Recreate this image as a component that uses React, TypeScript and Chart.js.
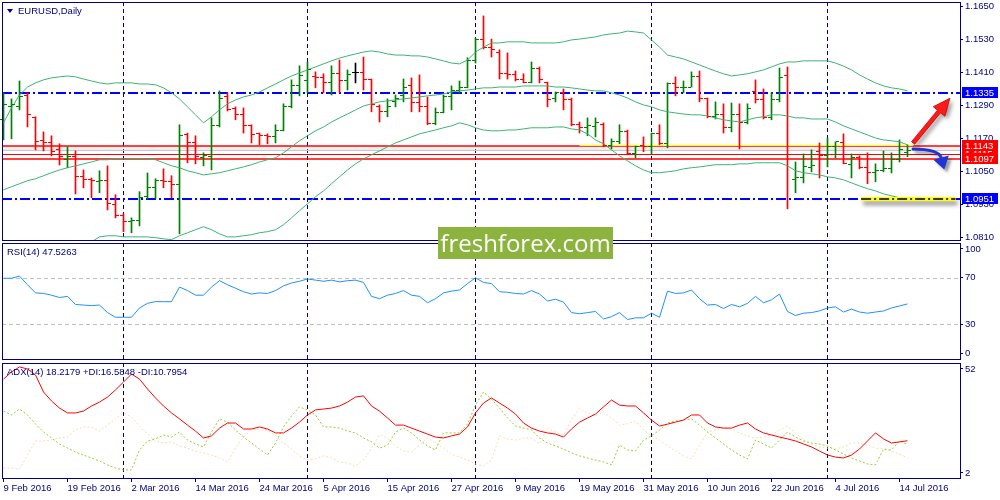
import React, { useEffect, useRef } from "react";
import { Chart, registerables } from "chart.js";

Chart.register(...registerables);

// ---------------- data (EURUSD daily, 9 Feb 2016 .. 15 Jul 2016) ----------------
const OPEN = [
  1.1238, 1.1288, 1.1288, 1.1328, 1.1245, 1.1162, 1.1154, 1.1129, 1.1093, 1.1104,
  1.1031, 1.1020, 1.1013, 1.1017, 1.0929, 1.0890, 1.0868, 1.0872, 1.0958, 1.0991,
  1.1017, 1.1013, 1.1002, 1.1183, 1.1154, 1.1100, 1.1104, 1.1216, 1.1321, 1.1278,
  1.1256, 1.1216, 1.1187, 1.1180, 1.1176, 1.1198, 1.1288, 1.1361, 1.1379, 1.1394,
  1.1390, 1.1375, 1.1405, 1.1379, 1.1408, 1.1408, 1.1386, 1.1288, 1.1267, 1.1303,
  1.1325, 1.1361, 1.1299, 1.1288, 1.1223, 1.1263, 1.1321, 1.1343, 1.1354, 1.1455,
  1.1531, 1.1499, 1.1484, 1.1405, 1.1401, 1.1383, 1.1372, 1.1423, 1.1375, 1.1317,
  1.1336, 1.1310, 1.1220, 1.1209, 1.1212, 1.1220, 1.1143, 1.1158, 1.1194, 1.1114,
  1.1143, 1.1140, 1.1190, 1.1151, 1.1368, 1.1354, 1.1357, 1.1394, 1.1317, 1.1249,
  1.1256, 1.1209, 1.1256, 1.1227, 1.1339, 1.1310, 1.1245, 1.1310, 1.1397, 1.1020,
  1.1027, 1.1064, 1.1122, 1.1107, 1.1140, 1.1154, 1.1074, 1.1100, 1.1064, 1.1045,
  1.1053, 1.1060, 1.1093, 1.1118,
];
const HIGH = [
  1.1336, 1.1314, 1.1379, 1.1336, 1.1249, 1.1194, 1.1180, 1.1151, 1.1140, 1.1125,
  1.1056, 1.1027, 1.1053, 1.1071, 1.0966, 1.0897, 1.0882, 1.0977, 1.1045, 1.1024,
  1.1060, 1.1035, 1.1220, 1.1190, 1.1180, 1.1118, 1.1245, 1.1343, 1.1336, 1.1285,
  1.1281, 1.1220, 1.1190, 1.1187, 1.1220, 1.1296, 1.1383, 1.1434, 1.1448, 1.1412,
  1.1405, 1.1434, 1.1455, 1.1419, 1.1444, 1.1466, 1.1386, 1.1292, 1.1314, 1.1328,
  1.1386, 1.1390, 1.1401, 1.1321, 1.1281, 1.1328, 1.1361, 1.1379, 1.1463, 1.1535,
  1.1615, 1.1531, 1.1492, 1.1481, 1.1415, 1.1405, 1.1448, 1.1430, 1.1375, 1.1339,
  1.1350, 1.1317, 1.1230, 1.1245, 1.1245, 1.1227, 1.1169, 1.1220, 1.1201, 1.1143,
  1.1176, 1.1190, 1.1220, 1.1372, 1.1394, 1.1379, 1.1412, 1.1415, 1.1317, 1.1303,
  1.1296, 1.1299, 1.1296, 1.1296, 1.1383, 1.1350, 1.1336, 1.1426, 1.1430, 1.1085,
  1.1114, 1.1129, 1.1154, 1.1172, 1.1158, 1.1187, 1.1114, 1.1107, 1.1118, 1.1078,
  1.1125, 1.1118, 1.1165, 1.1147,
];
const LOW = [
  1.1165, 1.1169, 1.1274, 1.1212, 1.1129, 1.1125, 1.1107, 1.1074, 1.1064, 1.0969,
  1.0991, 1.0955, 1.0973, 1.0911, 1.0882, 1.0832, 1.0828, 1.0853, 1.0951, 1.0951,
  1.0991, 1.0955, 1.0824, 1.1082, 1.1078, 1.1071, 1.1056, 1.1212, 1.1270, 1.1238,
  1.1190, 1.1154, 1.1147, 1.1151, 1.1154, 1.1198, 1.1281, 1.1325, 1.1336, 1.1354,
  1.1336, 1.1328, 1.1336, 1.1346, 1.1372, 1.1346, 1.1267, 1.1230, 1.1249, 1.1285,
  1.1303, 1.1267, 1.1267, 1.1220, 1.1220, 1.1263, 1.1274, 1.1336, 1.1354, 1.1444,
  1.1495, 1.1466, 1.1386, 1.1386, 1.1379, 1.1372, 1.1372, 1.1372, 1.1285, 1.1303,
  1.1274, 1.1216, 1.1190, 1.1180, 1.1176, 1.1140, 1.1132, 1.1151, 1.1111, 1.1100,
  1.1122, 1.1114, 1.1147, 1.1136, 1.1325, 1.1336, 1.1357, 1.1303, 1.1245, 1.1241,
  1.1190, 1.1194, 1.1132, 1.1223, 1.1299, 1.1241, 1.1238, 1.1303, 1.0915, 1.0973,
  1.1009, 1.1049, 1.1027, 1.1067, 1.1100, 1.1078, 1.1027, 1.1060, 1.1006, 1.1013,
  1.1049, 1.1045, 1.1085, 1.1104,
];
const CLOSE = [
  1.1292, 1.1292, 1.1321, 1.1256, 1.1158, 1.1154, 1.1122, 1.1104, 1.1104, 1.1031,
  1.1020, 1.1017, 1.1017, 1.0933, 1.0890, 1.0868, 1.0872, 1.0955, 1.0991, 1.1017,
  1.1013, 1.1002, 1.1180, 1.1154, 1.1104, 1.1107, 1.1216, 1.1317, 1.1274, 1.1256,
  1.1216, 1.1183, 1.1180, 1.1176, 1.1198, 1.1288, 1.1361, 1.1397, 1.1419, 1.1390,
  1.1375, 1.1405, 1.1379, 1.1401, 1.1408, 1.1386, 1.1292, 1.1267, 1.1288, 1.1314,
  1.1357, 1.1299, 1.1288, 1.1223, 1.1263, 1.1321, 1.1343, 1.1354, 1.1455, 1.1531,
  1.1499, 1.1492, 1.1405, 1.1401, 1.1383, 1.1375, 1.1423, 1.1383, 1.1310, 1.1336,
  1.1310, 1.1220, 1.1209, 1.1216, 1.1227, 1.1143, 1.1158, 1.1194, 1.1114, 1.1140,
  1.1140, 1.1187, 1.1151, 1.1368, 1.1354, 1.1357, 1.1394, 1.1317, 1.1249, 1.1256,
  1.1209, 1.1256, 1.1227, 1.1278, 1.1310, 1.1245, 1.1310, 1.1390, 1.1111, 1.1027,
  1.1067, 1.1071, 1.1107, 1.1140, 1.1158, 1.1078, 1.1100, 1.1064, 1.1045, 1.1053,
  1.1060, 1.1093, 1.1129, 1.1125,
];
const BB_UPPER = [
  1.1227, 1.1281, 1.1328, 1.1357, 1.1372, 1.1383, 1.1390, 1.1394, 1.1397, 1.1394,
  1.1386, 1.1379, 1.1372, 1.1368, 1.1372, 1.1372, 1.1372, 1.1368, 1.1368, 1.1365,
  1.1354, 1.1336, 1.1314, 1.1285, 1.1256, 1.1227, 1.1249, 1.1274, 1.1296, 1.1310,
  1.1321, 1.1328, 1.1339, 1.1354, 1.1368, 1.1383, 1.1397, 1.1408, 1.1419, 1.1430,
  1.1441, 1.1452, 1.1462, 1.1470, 1.1477, 1.1484, 1.1488, 1.1484, 1.1477, 1.1473,
  1.1473, 1.1470, 1.1470, 1.1466, 1.1459, 1.1452, 1.1444, 1.1441, 1.1455, 1.1484,
  1.1502, 1.1517, 1.1517, 1.1521, 1.1521, 1.1521, 1.1517, 1.1517, 1.1517, 1.1517,
  1.1521, 1.1528, 1.1531, 1.1535, 1.1539, 1.1546, 1.1550, 1.1553, 1.1560, 1.1557,
  1.1553, 1.1528, 1.1502, 1.1473, 1.1466, 1.1459, 1.1448, 1.1437, 1.1426, 1.1415,
  1.1405, 1.1397, 1.1401, 1.1405, 1.1412, 1.1419, 1.1430, 1.1441, 1.1448, 1.1448,
  1.1452, 1.1452, 1.1452, 1.1452, 1.1444, 1.1433, 1.1419, 1.1401, 1.1386, 1.1372,
  1.1361, 1.1354, 1.1350, 1.1343,
];
const BB_MIDDLE = [
  1.0984, 1.0995, 1.1006, 1.1017, 1.1024, 1.1035, 1.1046, 1.1056, 1.1064, 1.1071,
  1.1078, 1.1085, 1.1093, 1.1093, 1.1096, 1.1096, 1.1096, 1.1096, 1.1096, 1.1093,
  1.1082, 1.1071, 1.1064, 1.1053, 1.1046, 1.1038, 1.1042, 1.1046, 1.1053, 1.1060,
  1.1067, 1.1075, 1.1085, 1.1093, 1.1100, 1.1118, 1.1140, 1.1162, 1.1180, 1.1198,
  1.1212, 1.1230, 1.1245, 1.1259, 1.1274, 1.1288, 1.1296, 1.1303, 1.1307, 1.1310,
  1.1314, 1.1317, 1.1321, 1.1325, 1.1328, 1.1332, 1.1339, 1.1343, 1.1346, 1.1350,
  1.1354, 1.1354, 1.1357, 1.1357, 1.1357, 1.1361, 1.1361, 1.1361, 1.1361, 1.1357,
  1.1357, 1.1354, 1.1350, 1.1346, 1.1343, 1.1343, 1.1336, 1.1328, 1.1317, 1.1303,
  1.1292, 1.1285, 1.1274, 1.1267, 1.1263, 1.1259, 1.1256, 1.1256, 1.1252, 1.1245,
  1.1238, 1.1234, 1.1230, 1.1238, 1.1245, 1.1249, 1.1256, 1.1256, 1.1252, 1.1245,
  1.1245, 1.1241, 1.1241, 1.1241, 1.1230, 1.1216, 1.1205, 1.1194, 1.1183, 1.1172,
  1.1165, 1.1162, 1.1158, 1.1147,
];
const BB_LOWER = [
  1.0741, 1.0719, 1.0701, 1.0687, 1.0679, 1.0694, 1.0708, 1.0723, 1.0734, 1.0752,
  1.0774, 1.0795, 1.0813, 1.0817, 1.0817, 1.0813, 1.0813, 1.0813, 1.0813, 1.0810,
  1.0806, 1.0803, 1.0817, 1.0828, 1.0839, 1.0850, 1.0839, 1.0824, 1.0813, 1.0813,
  1.0817, 1.0821, 1.0828, 1.0832, 1.0839, 1.0857, 1.0882, 1.0908, 1.0933, 1.0959,
  1.0980, 1.1006, 1.1031, 1.1056, 1.1078, 1.1096, 1.1111, 1.1125, 1.1140, 1.1154,
  1.1165, 1.1176, 1.1187, 1.1194, 1.1201, 1.1209, 1.1216, 1.1227, 1.1220, 1.1209,
  1.1201, 1.1198, 1.1198, 1.1201, 1.1201, 1.1205, 1.1209, 1.1209, 1.1209, 1.1212,
  1.1212, 1.1205, 1.1201, 1.1187, 1.1165, 1.1151, 1.1129, 1.1107, 1.1089, 1.1071,
  1.1056, 1.1046, 1.1046, 1.1049, 1.1053, 1.1060, 1.1064, 1.1067, 1.1071, 1.1075,
  1.1075, 1.1075, 1.1078, 1.1078, 1.1082, 1.1082, 1.1082, 1.1082, 1.1071, 1.1053,
  1.1046, 1.1042, 1.1038, 1.1031, 1.1027, 1.1020, 1.1009, 1.0998, 1.0988, 1.0980,
  1.0969, 1.0962, 1.0955, 1.0951,
];
const RSI_VALUES = [
  69.6, 69.6, 71.5, 64, 57, 56.5, 55, 53, 54, 47,
  46.5, 46, 46.5, 40, 36, 36, 36, 44, 48, 49.5,
  49.4, 49.4, 62, 59, 55, 55, 62, 67.5, 64, 61,
  58, 56, 57, 56.5, 59, 63, 65.5, 67, 69, 68,
  67, 68, 66.5, 67.5, 68, 66, 54, 52, 55, 56.5,
  59, 55, 54, 48.5, 52, 57, 58.5, 59.5, 65, 70,
  66, 65, 58, 57.5, 56.5, 56, 59, 56, 50, 51.5,
  49, 40, 39, 40, 41, 34.5, 36.5, 40, 34, 35.5,
  35.5, 39.5, 36, 58.5, 56.5, 57, 59.5, 52, 46.5, 47,
  43.5, 47, 45, 48, 54, 48.5, 51, 56, 41, 37.5,
  39.5, 40, 41.5, 44, 45, 40.5, 43, 40.5, 39.5, 40.5,
  41.4, 44, 45.7, 47.5,
];
const ADX_VALUES = [
  45, 48.1, 50.3, 49.4, 46.8, 39.4, 35.5, 32.4, 30.3, 30.3,
  31.1, 33.3, 35, 37.2, 40.3, 43.7, 47.2, 45, 40.7, 36.8,
  33.3, 30.3, 27.7, 25, 22.4, 19.4, 20.3, 23.7, 25.9, 25.9,
  23.3, 23.3, 24.2, 23.3, 21.6, 21.6, 23.7, 26.3, 29.4, 31.6,
  32, 32.4, 33.3, 35, 37.2, 37.7, 33.3, 31.1, 28.1, 25,
  25, 23.7, 22.4, 21.1, 19.8, 19.4, 20.3, 21.1, 24.2, 30.3,
  34.6, 36.8, 34.6, 32.4, 29.8, 25.9, 23.7, 22.4, 21.6, 21.1,
  19.8, 23.3, 26.3, 28.1, 29.8, 32.9, 35.9, 33.7, 33.3, 33.3,
  30.3, 27.2, 24.6, 25.4, 26.3, 27.2, 29.4, 29.4, 25.9, 24.2,
  23.7, 23.7, 25, 25.9, 23.3, 21.6, 20.7, 19.8, 19, 18.1,
  16.8, 15.5, 13.7, 12, 11.1, 10.7, 12, 14.6, 18.1, 21.6,
  19, 17.2, 17.7, 18.2,
];
const PLUS_DI = [
  31.1, 29.4, 32, 29.4, 25.5, 22, 19.4, 16.8, 15, 13.3,
  12, 10.7, 9.4, 7.7, 6.3, 5.5, 5.5, 14.2, 18.1, 19,
  20.7, 19.8, 22, 18.5, 16.8, 15.5, 22, 27.7, 26.3, 22.9,
  19.8, 17.2, 14.6, 12, 17.2, 24.2, 29, 32.9, 31.6, 29.4,
  24.2, 24.2, 23.7, 22.4, 21.6, 19.4, 17.7, 15, 16.3, 22,
  23.7, 21.6, 18.5, 15.9, 14.2, 21.6, 21.6, 21.6, 25.5, 33.7,
  39.4, 36.3, 32.4, 28.1, 24.6, 23.7, 22.9, 19.4, 17.2, 15.9,
  14.6, 12.9, 11.6, 10.7, 9.8, 9, 7.7, 16.3, 14.2, 13.7,
  18.5, 20.3, 22.9, 25.9, 26.8, 27.2, 27.7, 25, 22, 19.4,
  16.8, 14.2, 12, 10.3, 18.5, 16.8, 15, 18.5, 22, 19.8,
  18.1, 17.2, 16.8, 15.9, 14.2, 12.4, 10.7, 9.4, 8.1, 7.7,
  14.6, 14.2, 18.1, 16.6,
];
const MINUS_DI = [
  6.3, 6.3, 5.9, 12, 18.1, 18.1, 18.5, 19.4, 19.8, 22.9,
  24.2, 24.2, 22.4, 25, 27.7, 30.3, 28.5, 24.6, 21.1, 18.1,
  17.2, 17.7, 15.9, 15, 13.7, 12.9, 12, 10.7, 9, 15,
  19.8, 22.9, 22.9, 22.9, 20.3, 17.2, 14.6, 11.6, 9.8, 10.3,
  11.6, 10.7, 9, 8.5, 7.2, 9.8, 15, 20.7, 19.4, 15.9,
  13.7, 13.3, 16.3, 19.4, 17.2, 15, 12.4, 11.1, 9.8, 8.1,
  7.2, 9.8, 20.3, 19, 18.5, 19.4, 19.4, 16.8, 23.7, 22,
  20.7, 27.2, 32.4, 30.3, 29, 30.7, 28.1, 25, 25.5, 26.8,
  22.9, 20.3, 18.5, 15.9, 13.7, 11.6, 10.3, 16.3, 22, 22.9,
  23.7, 23.3, 21.6, 20.3, 19.4, 19.8, 20.7, 22.9, 24.6, 21.6,
  18.5, 16.8, 15.5, 15, 14.6, 15.5, 17.2, 17.2, 16.3, 15,
  14.6, 13.7, 12.4, 10.8,
];

const X_TICK_INDEX = [0, 8, 16, 24, 32, 40, 48, 56, 64, 72, 80, 88, 96, 104, 112];
const X_TICK_LABELS = [
  "9 Feb 2016", "19 Feb 2016", "2 Mar 2016", "14 Mar 2016", "24 Mar 2016",
  "5 Apr 2016", "15 Apr 2016", "27 Apr 2016", "9 May 2016", "19 May 2016",
  "31 May 2016", "10 Jun 2016", "22 Jun 2016", "4 Jul 2016", "14 Jul 2016",
];
const MONTH_START_INDEX = [15, 38, 59, 81, 103];
const PRICE_TICKS = [1.165, 1.153, 1.141, 1.129, 1.117, 1.105, 1.093, 1.081];
const PRICE_MIN = 1.08017;
const PRICE_MAX = 1.16656;
const BLUE_LEVELS = [1.1335, 1.0951];
const RED_LEVELS_MAIN = [1.1143, 1.1097];
const RED_LEVEL_BID = 1.1115;
const GRAY_BAND = [1.114, 1.1124];
const YELLOW_LEVEL = 1.1148;
const YELLOW_SPAN = [72, 113.7];
const HIGHLIGHT_LEVEL = 1.0951;
const HIGHLIGHT_SPAN = [107.2, 119];
const RED_ARROW = [[113.7, 1.1154], [118.3, 1.1316]];
const BLUE_ARROW = [[113.7, 1.1132], [116.9, 1.1131], [117.2, 1.1101], [117.6, 1.1058]];
const PRICE_BOXES = [
  { value: 1.1335, color: "#0000ff" },
  { value: 1.1115, color: "#ff0000" },
  { value: 1.1143, color: "#ff0000" },
  { value: 1.1097, color: "#ff0000" },
  { value: 1.0951, color: "#0000ff" },
];
const RSI_LEVELS = [70, 30];
const RSI_TICK_AT = [94.9, 70, 30, 5.1];
const RSI_TICK_TEXT = ["100", "70", "30", "0"];
const ADX_TICK_AT = [49.4, 4.2];
const ADX_TICK_TEXT = ["52", "2"];
const X_MIN = -0.1875;
const X_MAX = 119.5625;

const TITLE_MAIN = "EURUSD,Daily";
const TITLE_RSI = "RSI(14) 47.5263";
const TITLE_ADX = "ADX(14) 18.2179 +DI:16.5848 -DI:10.7954";

// ---------------- style ----------------
const DARK = "#000080";
const UP = "#008000";
const DOWN = "#ff0000";
const DOJI = "#000000";
const BAND = "#3cb371";
const FONT_FAMILY = "'Liberation Sans', Arial, sans-serif";
const FONT_SIZE = 9.5;
const CANVAS_FONT = `${FONT_SIZE}px ${FONT_FAMILY}`;

const barColor = (i: number) =>
  CLOSE[i] > OPEN[i] ? UP : CLOSE[i] < OPEN[i] ? DOWN : DOJI;

function drawMonthLines(chart: any) {
  const { ctx, chartArea: a, scales } = chart;
  const x = scales.x;
  ctx.save();
  ctx.strokeStyle = DARK;
  ctx.lineWidth = 1;
  ctx.setLineDash([4, 3]);
  for (const i of MONTH_START_INDEX) {
    const px = Math.round(x.getPixelForValue(i) - 0.5) + 0.5;
    ctx.beginPath();
    ctx.moveTo(px, a.top);
    ctx.lineTo(px, a.bottom);
    ctx.stroke();
  }
  ctx.restore();
}

function drawFrame(chart: any) {
  const { ctx, chartArea: a } = chart;
  ctx.save();
  ctx.strokeStyle = DARK;
  ctx.lineWidth = 1;
  ctx.setLineDash([]);
  ctx.strokeRect(a.left + 0.5, a.top + 0.5, a.width, a.height);
  ctx.restore();
}

function drawLabel(ctx: CanvasRenderingContext2D, text: string, x: number, y: number) {
  ctx.save();
  ctx.font = CANVAS_FONT;
  ctx.fillStyle = DARK;
  ctx.textBaseline = "middle";
  ctx.textAlign = "left";
  ctx.fillText(text, x, y);
  ctx.restore();
}

function arrowPath(ctx: CanvasRenderingContext2D, x1: number, y1: number, x2: number, y2: number, shaftW: number, headL: number, headW: number) {
  const dx = x2 - x1;
  const dy = y2 - y1;
  const len = Math.hypot(dx, dy);
  const ux = dx / len;
  const uy = dy / len;
  const nx = -uy;
  const ny = ux;
  const bx = x2 - ux * headL;
  const by = y2 - uy * headL;
  ctx.beginPath();
  ctx.moveTo(x1 + (nx * shaftW) / 2, y1 + (ny * shaftW) / 2);
  ctx.lineTo(bx + (nx * shaftW) / 2, by + (ny * shaftW) / 2);
  ctx.lineTo(bx + (nx * headW) / 2, by + (ny * headW) / 2);
  ctx.lineTo(x2, y2);
  ctx.lineTo(bx - (nx * headW) / 2, by - (ny * headW) / 2);
  ctx.lineTo(bx - (nx * shaftW) / 2, by - (ny * shaftW) / 2);
  ctx.lineTo(x1 - (nx * shaftW) / 2, y1 - (ny * shaftW) / 2);
  ctx.closePath();
}

const mainPlugin = {
  id: "mainDecor",
  beforeDatasetsDraw(chart: any) {
    const { ctx, chartArea: a, scales } = chart;
    const { x, y } = scales;
    drawMonthLines(chart);
    ctx.save();
    ctx.beginPath();
    ctx.rect(a.left, a.top, a.width, a.height);
    ctx.clip();
    // soft gray band
    const g1 = y.getPixelForValue(GRAY_BAND[0]);
    const g2 = y.getPixelForValue(GRAY_BAND[1]);
    ctx.fillStyle = "rgba(205,205,205,0.35)";
    ctx.fillRect(a.left, g1, a.width, g2 - g1);
    ctx.strokeStyle = "#c8c8c8";
    ctx.lineWidth = 1;
    ctx.beginPath();
    ctx.moveTo(a.left, Math.round(g2) - 0.5);
    ctx.lineTo(a.right, Math.round(g2) - 0.5);
    ctx.stroke();
    // blue dash-dot levels
    ctx.strokeStyle = "#0000ff";
    ctx.lineWidth = 2;
    ctx.setLineDash([10, 3, 2, 3]);
    for (const v of BLUE_LEVELS) {
      const py = Math.round(y.getPixelForValue(v));
      ctx.beginPath();
      ctx.moveTo(a.left, py);
      ctx.lineTo(a.right, py);
      ctx.stroke();
    }
    // red levels
    ctx.setLineDash([]);
    ctx.strokeStyle = "#ff0000";
    ctx.lineWidth = 1.6;
    for (const v of RED_LEVELS_MAIN) {
      const py = Math.round(y.getPixelForValue(v));
      ctx.beginPath();
      ctx.moveTo(a.left, py);
      ctx.lineTo(a.right, py);
      ctx.stroke();
    }
    ctx.lineWidth = 1;
    const pb = Math.round(y.getPixelForValue(RED_LEVEL_BID)) + 0.5;
    ctx.beginPath();
    ctx.moveTo(a.left, pb);
    ctx.lineTo(a.right, pb);
    ctx.stroke();
    // thin yellow line
    ctx.strokeStyle = "#ffff00";
    ctx.lineWidth = 1;
    const yy = Math.round(y.getPixelForValue(YELLOW_LEVEL)) + 0.5;
    ctx.beginPath();
    ctx.moveTo(x.getPixelForValue(YELLOW_SPAN[0]), yy);
    ctx.lineTo(x.getPixelForValue(YELLOW_SPAN[1]), yy);
    ctx.stroke();
    ctx.restore();
  },
  afterDatasetsDraw(chart: any) {
    const { ctx, scales } = chart;
    const { x, y } = scales;
    ctx.save();
    // open / close ticks
    for (let i = 0; i < OPEN.length; i++) {
      const col = Math.round(x.getPixelForValue(i) - 0.5);
      ctx.fillStyle = barColor(i);
      const yo = Math.round(y.getPixelForValue(OPEN[i]) - 0.5);
      const yc = Math.round(y.getPixelForValue(CLOSE[i]) - 0.5);
      ctx.fillRect(col - 3, yo, 3, 1);
      ctx.fillRect(col + 1, yc, 3, 1);
    }
    // yellow highlight at support
    const hy = Math.round(y.getPixelForValue(HIGHLIGHT_LEVEL));
    const hx1 = x.getPixelForValue(HIGHLIGHT_SPAN[0]);
    const hx2 = x.getPixelForValue(HIGHLIGHT_SPAN[1]);
    ctx.save();
    ctx.shadowColor = "rgba(0,0,0,0.45)";
    ctx.shadowBlur = 4;
    ctx.shadowOffsetX = 2;
    ctx.shadowOffsetY = 4;
    ctx.strokeStyle = "#ffff00";
    ctx.lineWidth = 4;
    ctx.beginPath();
    ctx.moveTo(hx1, hy);
    ctx.lineTo(hx2, hy);
    ctx.stroke();
    ctx.restore();
    ctx.strokeStyle = "#000000";
    ctx.lineWidth = 1.5;
    ctx.setLineDash([10, 3, 2, 3]);
    ctx.beginPath();
    ctx.moveTo(hx1, hy);
    ctx.lineTo(hx2, hy);
    ctx.stroke();
    ctx.setLineDash([]);

    // red arrow
    const rx1 = x.getPixelForValue(RED_ARROW[0][0]);
    const ry1 = y.getPixelForValue(RED_ARROW[0][1]);
    const rx2 = x.getPixelForValue(RED_ARROW[1][0]);
    const ry2 = y.getPixelForValue(RED_ARROW[1][1]);
    ctx.save();
    ctx.shadowColor = "rgba(0,0,0,0.4)";
    ctx.shadowBlur = 4;
    ctx.shadowOffsetX = 3;
    ctx.shadowOffsetY = 3;
    arrowPath(ctx, rx1, ry1, rx2, ry2, 4, 17, 15);
    ctx.fillStyle = "#ff1a1a";
    ctx.fill();
    ctx.restore();
    arrowPath(ctx, rx1, ry1, rx2, ry2, 4, 17, 15);
    ctx.strokeStyle = "#c00000";
    ctx.lineWidth = 0.8;
    ctx.stroke();

    // blue curved arrow
    const pts = BLUE_ARROW.map(([bi, bp]) => [x.getPixelForValue(bi), y.getPixelForValue(bp)]);
    const [p0, p1, p2, p3] = pts;
    const dx = p3[0] - p2[0];
    const dy = p3[1] - p2[1];
    const len = Math.hypot(dx, dy);
    const nx = -dy / len;
    const ny = dx / len;
    ctx.save();
    ctx.shadowColor = "rgba(0,0,0,0.4)";
    ctx.shadowBlur = 3;
    ctx.shadowOffsetX = 3;
    ctx.shadowOffsetY = 3;
    ctx.strokeStyle = "#1f35d8";
    ctx.lineWidth = 3;
    ctx.lineCap = "round";
    ctx.beginPath();
    ctx.moveTo(p0[0], p0[1]);
    ctx.quadraticCurveTo(p1[0], p1[1], p2[0], p2[1]);
    ctx.stroke();
    ctx.fillStyle = "#1f35d8";
    ctx.beginPath();
    ctx.moveTo(p2[0] + nx * 8, p2[1] + ny * 8);
    ctx.lineTo(p3[0], p3[1]);
    ctx.lineTo(p2[0] - nx * 8, p2[1] - ny * 8);
    ctx.closePath();
    ctx.fill();
    ctx.restore();
    ctx.restore();
  },
  afterDraw(chart: any) {
    const { ctx, scales } = chart;
    const { y } = scales;
    drawFrame(chart);
    // title
    ctx.save();
    ctx.fillStyle = DARK;
    ctx.beginPath();
    ctx.moveTo(7, 9);
    ctx.lineTo(13, 9);
    ctx.lineTo(10, 13);
    ctx.closePath();
    ctx.fill();
    ctx.restore();
    drawLabel(ctx, TITLE_MAIN, 18, 11);
    // right price boxes
    ctx.save();
    ctx.font = CANVAS_FONT;
    ctx.textBaseline = "middle";
    ctx.textAlign = "left";
    for (const b of PRICE_BOXES) {
      const py = Math.round(y.getPixelForValue(b.value));
      ctx.fillStyle = b.color;
      ctx.fillRect(962, py - 6, 36, 11);
      ctx.fillStyle = "#ffffff";
      ctx.fillText(b.value.toFixed(4), 965, py);
    }
    ctx.restore();
  },
};

const rsiPlugin = {
  id: "rsiDecor",
  beforeDatasetsDraw(chart: any) {
    const { ctx, chartArea: a, scales } = chart;
    drawMonthLines(chart);
    ctx.save();
    ctx.strokeStyle = "#c0c0c0";
    ctx.lineWidth = 1;
    ctx.setLineDash([4, 3]);
    for (const v of RSI_LEVELS) {
      const py = Math.round(scales.y.getPixelForValue(v)) + 0.5;
      ctx.beginPath();
      ctx.moveTo(a.left, py);
      ctx.lineTo(a.right, py);
      ctx.stroke();
    }
    ctx.restore();
  },
  afterDraw(chart: any) {
    drawFrame(chart);
    drawLabel(chart.ctx, TITLE_RSI, 7, 11);
  },
};

const adxPlugin = {
  id: "adxDecor",
  beforeDatasetsDraw(chart: any) {
    drawMonthLines(chart);
  },
  afterDraw(chart: any) {
    drawFrame(chart);
    drawLabel(chart.ctx, TITLE_ADX, 7, 11);
  },
};

const font = { family: FONT_FAMILY, size: FONT_SIZE };

function yAxis(min: number, max: number, tickAt: number[], label: (v: number, i: number) => string) {
  return {
    type: "linear",
    position: "right",
    min,
    max,
    afterBuildTicks(s: any) {
      s.ticks = tickAt.map((v) => ({ value: v }));
    },
    afterFit(s: any) {
      s.width = 40;
      s.paddingTop = 0;
      s.paddingBottom = 0;
      s.paddingLeft = 0;
      s.paddingRight = 0;
    },
    ticks: {
      autoSkip: false,
      padding: 2,
      color: DARK,
      font,
      callback: (v: any, i: number) => label(Number(v), i),
    },
    grid: { display: true, drawOnChartArea: false, drawTicks: true, tickLength: 3, color: DARK },
    border: { display: false },
  };
}

const hiddenX = {
  type: "linear",
  min: X_MIN,
  max: X_MAX,
  display: false,
  offset: false,
};

const baseOptions = (padding: any) => ({
  responsive: false,
  maintainAspectRatio: false,
  animation: false,
  events: [],
  layout: { padding, autoPadding: false },
  plugins: { legend: { display: false }, tooltip: { enabled: false } },
});

export default function App() {
  const mainRef = useRef<HTMLCanvasElement>(null);
  const rsiRef = useRef<HTMLCanvasElement>(null);
  const adxRef = useRef<HTMLCanvasElement>(null);

  useEffect(() => {
    const idx = OPEN.map((_, i) => i);
    const series = (arr: number[]) => arr.map((v, i) => ({ x: idx[i], y: v }));

    const main = new Chart(mainRef.current as HTMLCanvasElement, {
      type: "bar",
      data: {
        datasets: [
          {
            type: "bar",
            data: idx.map((i) => ({ x: i, y: [LOW[i], HIGH[i]] })),
            backgroundColor: idx.map(barColor),
            borderWidth: 0,
            barThickness: 1,
            grouped: false,
            order: 2,
          },
          { type: "line", data: series(BB_UPPER), borderColor: BAND, borderWidth: 1, pointRadius: 0, tension: 0, fill: false, order: 1 },
          { type: "line", data: series(BB_MIDDLE), borderColor: BAND, borderWidth: 1, pointRadius: 0, tension: 0, fill: false, order: 1 },
          { type: "line", data: series(BB_LOWER), borderColor: BAND, borderWidth: 1, pointRadius: 0, tension: 0, fill: false, order: 1 },
        ],
      } as any,
      options: {
        ...baseOptions({ left: 2, top: 2, right: 0, bottom: 1 }),
        scales: {
          x: hiddenX,
          y: yAxis(PRICE_MIN, PRICE_MAX, PRICE_TICKS, (v) => v.toFixed(4)),
        },
      } as any,
      plugins: [mainPlugin],
    });

    const rsi = new Chart(rsiRef.current as HTMLCanvasElement, {
      type: "line",
      data: {
        datasets: [
          { data: series(RSI_VALUES), borderColor: "#1e90ff", borderWidth: 1, pointRadius: 0, tension: 0, fill: false },
        ],
      } as any,
      options: {
        ...baseOptions({ left: 2, top: 2, right: 0, bottom: 2 }),
        scales: {
          x: hiddenX,
          y: yAxis(0, 100, RSI_TICK_AT, (_v, i) => RSI_TICK_TEXT[i]),
        },
      } as any,
      plugins: [rsiPlugin],
    });

    const adx = new Chart(adxRef.current as HTMLCanvasElement, {
      type: "line",
      data: {
        datasets: [
          { data: series(ADX_VALUES), borderColor: "#ff0000", borderWidth: 1, pointRadius: 0, tension: 0, fill: false },
          { data: series(PLUS_DI), borderColor: "#9acd32", borderWidth: 1, borderDash: [2, 2], pointRadius: 0, tension: 0, fill: false },
          { data: series(MINUS_DI), borderColor: "#f5deb3", borderWidth: 1, borderDash: [2, 2], pointRadius: 0, tension: 0, fill: false },
        ],
      } as any,
      options: {
        ...baseOptions({ left: 2, top: 2, right: 0, bottom: 0 }),
        scales: {
          x: {
            type: "linear",
            position: "bottom",
            min: X_MIN,
            max: X_MAX,
            offset: false,
            afterBuildTicks(s: any) {
              s.ticks = X_TICK_INDEX.map((v) => ({ value: v }));
            },
            afterFit(s: any) {
              s.height = 22;
              s.paddingLeft = 0;
              s.paddingRight = 0;
              s.paddingTop = 0;
              s.paddingBottom = 0;
            },
            ticks: {
              autoSkip: false,
              maxRotation: 0,
              minRotation: 0,
              align: "start",
              padding: 1,
              color: DARK,
              font,
              callback: (_v: any, i: number) => X_TICK_LABELS[i],
            },
            grid: { display: true, drawOnChartArea: false, drawTicks: true, tickLength: 4, color: DARK },
            border: { display: false },
          },
          y: yAxis(2, 52, ADX_TICK_AT, (_v, i) => ADX_TICK_TEXT[i]),
        },
      } as any,
      plugins: [adxPlugin],
    });

    return () => {
      main.destroy();
      rsi.destroy();
      adx.destroy();
    };
  }, []);

  return (
    <div
      style={{
        position: "fixed",
        left: 0,
        top: 0,
        width: 1000,
        height: 500,
        background: "#ffffff",
        overflow: "hidden",
      }}
    >
      <canvas ref={mainRef} width={1000} height={241} style={{ position: "absolute", left: 0, top: 0, width: 1000, height: 241 }} />
      <canvas ref={rsiRef} width={1000} height={120} style={{ position: "absolute", left: 0, top: 241, width: 1000, height: 120 }} />
      <canvas ref={adxRef} width={1000} height={139} style={{ position: "absolute", left: 0, top: 361, width: 1000, height: 139 }} />
      <div
        style={{
          position: "absolute",
          left: 438,
          top: 227,
          width: 175,
          height: 32,
          background: "#8cb33d",
          color: "#ffffff",
          fontFamily: "'Open Sans', 'Noto Sans', sans-serif",
          fontSize: 24,
          lineHeight: "32px",
          textAlign: "center",
          whiteSpace: "nowrap",
        }}
      >
        freshforex.com
      </div>
    </div>
  );
}
